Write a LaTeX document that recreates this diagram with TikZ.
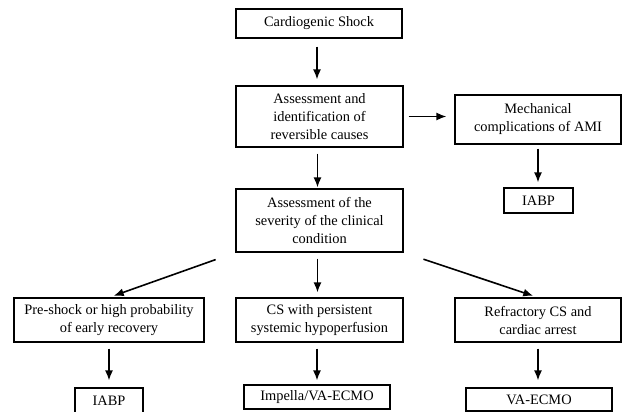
\documentclass[tikz,border=0pt]{standalone}
\usepackage{fontspec}
\setmainfont{Liberation Serif}
\usetikzlibrary{arrows.meta}
\tikzset{
	blk/.style={draw, line width=1.1pt, inner sep=0pt, align=center, font=\fontsize{14.4}{18}\selectfont},
	lnk/.style={line width=1.6pt, -{Latex[length=10pt,width=8pt]}}
}

\begin{document}
\begin{tikzpicture}[x=1pt,y=-1pt]
			%%%%% START %%%%%
			\useasboundingbox (0,0) rectangle (622,412);
			
			\node[blk, minimum width=166pt, minimum height=29pt] (shock) at (319,23.5) {Cardiogenic Shock};
			\node[blk, minimum width=167pt, minimum height=61pt] (assess) at (319.5,116.5) {Assessment and\\identification of\\reversible causes};
			\node[blk, minimum width=167pt, minimum height=63pt] (sever) at (319.5,220.5) {Assessment of the\\severity of the clinical\\condition};
			
			\node[blk, minimum width=166pt, minimum height=49pt] (mech) at (538,119.5) {Mechanical\\complications of AMI};
			\node[blk, minimum width=69pt, minimum height=25pt] (iabpA) at (538.5,200.5) {IABP};
			
			\node[blk, minimum width=190pt, minimum height=44pt] (pre) at (109,320) {Pre-shock or high probability\\of early recovery};
			\node[blk, minimum width=167pt, minimum height=44pt] (persist) at (319.5,320) {CS with persistent\\systemic hypoperfusion};
			\node[blk, minimum width=166pt, minimum height=44pt] (refr) at (538,320) {Refractory CS and\\cardiac arrest};
			
			\node[blk, minimum width=68pt, minimum height=25pt] (iabpB) at (109,400.5) {IABP};
			\node[blk, minimum width=146pt, minimum height=24pt] (impella) at (317,397) {Impella/VA-ECMO};
			\node[blk, minimum width=146pt, minimum height=23pt] (vaecmo) at (539,399.5) {VA-ECMO};
			
			\draw[lnk, shorten <=8pt, shorten >=6pt] ([xshift=-2pt]shock.south) -- ([xshift=-2pt]shock.south |- assess.north);
			\draw[lnk, shorten <=5pt, shorten >=8pt] (assess.east) -- (assess.east -| mech.west);
			\draw[lnk, shorten <=4pt, shorten >=5pt] (mech.south) -- (mech.south |- iabpA.north);
			\draw[lnk, shorten <=6pt, shorten >=1pt] ([xshift=-2pt]assess.south) -- ([xshift=-2pt]assess.south |- sever.north);
			
			\draw[lnk, shorten <=21pt, shorten >=5pt] (sever.south west) -- (pre.north);
			\draw[lnk, shorten <=6pt, shorten >=5pt] ([xshift=-2pt]sever.south) -- ([xshift=-2pt]sever.south |- persist.north);
			\draw[lnk, shorten <=21pt, shorten >=5pt] (sever.south east) -- (refr.north);
			
			\draw[lnk, shorten <=6pt, shorten >=7pt] (pre.south) -- (pre.south |- iabpB.north);
			\draw[lnk, shorten <=6pt, shorten >=4pt] (impella.north |- persist.south) -- (impella.north);
			\draw[lnk, shorten <=6pt, shorten >=7pt] (refr.south) -- (refr.south |- vaecmo.north);
			
			%%%%% END %%%%%
\end{tikzpicture}
\end{document}
